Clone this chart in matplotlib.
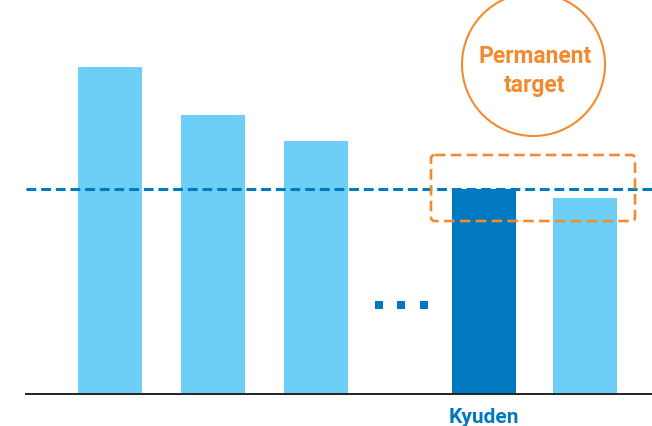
import matplotlib.pyplot as plt
from matplotlib.patches import FancyBboxPatch, Circle

# chart values (arbitrary units, first bar = 100)
categories = ['', '', '', 'Kyuden', '']
values = [99.2, 84.9, 77.0, 62.2, 59.4]
target = 62.2
highlight = 'Kyuden'

light = '#6dcff6'
dark = '#0079c1'
orange = '#f48a2e'
narrow = ['Roboto', 'DejaVu Sans']

W, H = 652, 427
fig = plt.figure(figsize=(W / 100, H / 100), dpi=100)

# main axes: baseline sits 32 px above the bottom of the figure
base_px = 395
ax = fig.add_axes([0, (H - base_px) / H, 1, base_px / H])
ax.set_ylim(0, 120)
step = 103
ax.set_xlim((0 - 110) / step, (W - 110) / step)

xpos = [0, 1, 2, 3.63, 4.61]
colors = [dark if c == highlight else light for c in categories]
ax.bar(xpos, values, width=64 / step, color=colors, zorder=2)

ax.axhline(target, xmin=26 / W, xmax=1, color=dark, lw=2.2,
           dashes=(3.2, 1.6), zorder=3)
ax.axhline(0, xmin=26 / W, xmax=1, color='#222222', lw=1.4, zorder=4,
           clip_on=False)

# the "..." between the groups
ax.scatter([2.61, 2.83, 3.05], [27, 27, 27], marker='s', s=40,
           color=dark, linewidths=0, zorder=3)

ax.set_xticks(xpos)
ax.set_xticklabels(categories, color=dark, fontweight='bold', fontsize=15,
                   family=narrow, va='top')
ax.tick_params(axis='x', length=0, pad=9.5)
ax.set_yticks([])
for s in ax.spines.values():
    s.set_visible(False)

# overlay in pixel coordinates for the annotation shapes
ov = fig.add_axes([0, 0, 1, 1])
ov.set_xlim(0, W)
ov.set_ylim(H, 0)
ov.axis('off')
ov.patch.set_alpha(0)

box = FancyBboxPatch((431, 156), 204, 66, boxstyle='round,pad=0,rounding_size=4',
                     fill=False, edgecolor=orange, lw=1.9, linestyle=(0, (4, 2)))
ov.add_patch(box)
ov.add_patch(Circle((533.5, 65.5), 71.5, fill=False, edgecolor=orange, lw=1.5))
ov.text(535, 71, 'Permanent\ntarget', color=orange, fontsize=16.5,
        fontweight='bold', family=narrow, ha='center', va='center',
        linespacing=1.28)

fig.savefig('out.png', dpi=100)
